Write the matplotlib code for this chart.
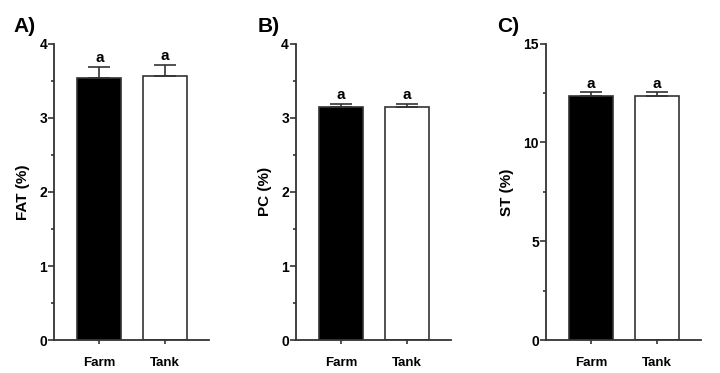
import numpy as np
import matplotlib
matplotlib.use('Agg')
import matplotlib.pyplot as plt
from matplotlib.ticker import MultipleLocator

plt.rcParams['font.family'] = ['Liberation Sans', 'DejaVu Sans']
plt.rcParams['font.weight'] = 'bold'

# Data
groups = ['Farm', 'Tank']
fat_mean = [3.54, 3.56]
fat_err = [0.15, 0.15]
pc_mean = [3.15, 3.15]
pc_err = [0.04, 0.04]
st_mean = [12.33, 12.33]
st_err = [0.20, 0.20]
letters = ['a', 'a']

panels = [
    ('A)', 'FAT (%)', fat_mean, fat_err, 4, 1, 0.5),
    ('B)', 'PC (%)', pc_mean, pc_err, 4, 1, 0.5),
    ('C)', 'ST (%)', st_mean, st_err, 15, 5, 2.5),
]
lefts = [0.075, 0.411, 0.758]
tag_x = [0.019, 0.358, 0.690]
axcol = '#333333'

fig = plt.figure(figsize=(7.2, 3.73), dpi=100)

for (tag, ylab, mean, err, ymax, major, minor), left, tx in zip(panels, lefts, tag_x):
    ax = fig.add_axes([left, 0.088, 0.215, 0.795])
    x = np.arange(len(groups))
    ax.bar(x, mean, width=0.67, color=['black', 'white'],
           edgecolor=axcol, linewidth=1.2, zorder=2)
    ax.errorbar(x, mean, yerr=[np.zeros(len(err)), err], fmt='none',
                ecolor=axcol, elinewidth=1.2, capsize=8, capthick=1.2, zorder=3)
    for xi, m, e, lt in zip(x, mean, err, letters):
        ax.text(xi, m + e + ymax * 0.006, lt, ha='center', va='bottom',
                fontsize=11, fontweight='bold')
    ax.set_xlim(-0.69, 1.67)
    ax.set_ylim(0, ymax)
    ax.yaxis.set_major_locator(MultipleLocator(major))
    ax.yaxis.set_minor_locator(MultipleLocator(minor))
    ax.set_xticks(x)
    ax.set_xticklabels(groups, fontsize=9.5, fontweight='bold')
    ax.tick_params(axis='x', length=3, width=1.2, color=axcol, pad=9)
    ax.tick_params(axis='y', which='major', length=4, width=1.2, color=axcol,
                   labelsize=10, pad=1)
    ax.tick_params(axis='y', which='minor', length=2.5, width=1.2, color=axcol)
    for lab in ax.get_yticklabels():
        lab.set_fontweight('bold')
    ax.spines['top'].set_visible(False)
    ax.spines['right'].set_visible(False)
    ax.spines['left'].set_linewidth(1.3)
    ax.spines['bottom'].set_linewidth(1.3)
    ax.spines['left'].set_color(axcol)
    ax.spines['bottom'].set_color(axcol)
    ax.set_ylabel(ylab, fontsize=11, fontweight='bold', labelpad=7)
    fig.text(tx, 0.955, tag, fontsize=15, fontweight='bold', va='top')

fig.savefig('out.png', dpi=100)
